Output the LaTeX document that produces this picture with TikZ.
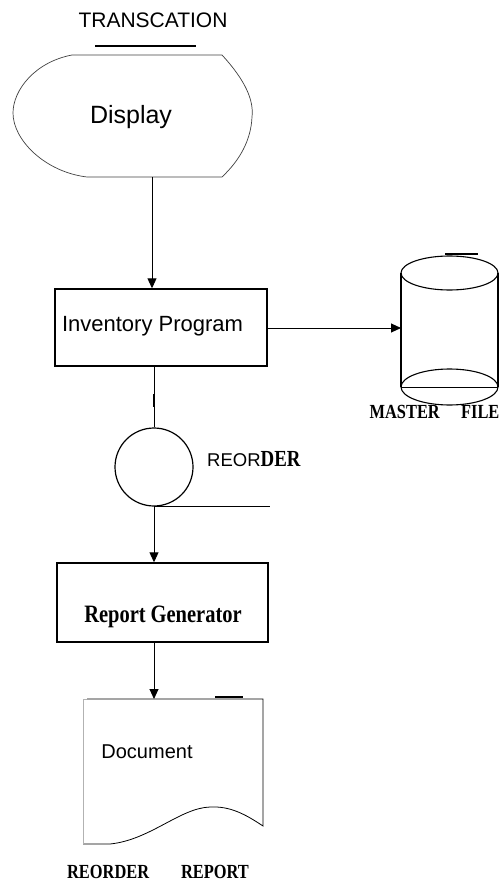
\documentclass[tikz,border=0pt]{standalone}
\usepackage{fontspec}
\setmainfont{Liberation Sans}
\newfontfamily\heavyserif{Liberation Serif}
\usepackage{graphicx}
\usetikzlibrary{arrows.meta}
\tikzset{
  arr/.style={line width=0.9pt,-{Triangle[length=10pt,width=9pt]}},
  procbox/.style={draw,line width=1.4pt,inner sep=0pt},
  txt/.style={anchor=base,inner sep=0pt},
}
\newcommand{\heavy}[2]{{\heavyserif\bfseries\fontsize{#1}{#1}\selectfont\scalebox{0.82}[1]{#2}}}
\begin{document}
\begin{tikzpicture}[x=1pt,y=-1pt]
\useasboundingbox (0,0) rectangle (502,882);

% title
\node[txt,font=\fontsize{21}{23}\selectfont] (trans) at (153,28) {TRANSCATION};
\draw[line width=2pt] (95,46) -- (196,46);

% display symbol
\draw[line width=0.7pt,black!75] (72,55) -- (222,55)
  .. controls (245,80) and (254,100) .. (252,117)
  .. controls (251,140) and (240,160) .. (222,177)
  -- (87,177)
  .. controls (45,172) and (13,140) .. (13,113)
  .. controls (13,90) and (35,62) .. (72,55) -- cycle;
\node[txt,font=\fontsize{25}{27}\selectfont] (disp) at (131,124) {Display};
\coordinate (dispb) at (152,177);

% inventory program
\node[procbox,minimum width=212pt,minimum height=77pt] (inv) at (161,327.5) {};
\node[txt,font=\fontsize{22}{24}\selectfont] (invtext) at (152.5,331) {Inventory Program};
\draw[arr] (dispb) -- (dispb |- inv.north);

% master file cylinder
\coordinate (cylw) at (401,328);
\draw[arr] (inv.east |- cylw) -- (cylw);
\draw[line width=1.1pt] (401,273) -- (401,387);
\draw[line width=1.1pt] (498,273) -- (498,387);
\draw[line width=1.1pt] (449.5,273) ellipse [x radius=48.5pt, y radius=17pt];
\draw[line width=1.1pt] (449.5,387) ellipse [x radius=48.5pt, y radius=18pt];
\draw[line width=1pt] (401,387) -- (498,387);
\draw[line width=2.4pt] (445,254) -- (478,254);
\node[txt] (mflabel) at (434.5,418) {\heavy{20}{MASTER\hspace{26pt}FILE}};

% reorder tape
\node[circle,draw,line width=1.2pt,minimum size=78pt,inner sep=0pt] (reo) at (154,467) {};
\draw[line width=1pt] (reo.north |- inv.south) -- (reo.north);
\draw[line width=2.6pt] (reo.north) ++(0,-33) -- ++(0,13);
\node[anchor=base west,inner sep=0pt] (reolab) at (207,466) {{\fontsize{18.5}{20}\selectfont REOR}\heavy{23}{DER}};
\draw[line width=1pt] (reo.south) -- ++(116,0);

% report generator
\node[procbox,minimum width=211pt,minimum height=79pt] (rg) at (162.5,602.5) {};
\node[txt] (rgtext) at (163,622) {\heavy{25}{Report\hspace{6pt}Generator}};
\draw[arr] (reo.south) -- (reo.south |- rg.north);

% document
\coordinate (doct) at (154,699);
\draw[arr] (doct |- rg.south) -- (doct);
\draw[line width=0.8pt] (87,699) -- (263,699) -- (263,826)
  .. controls (245,814) and (230,806) .. (210,807)
  .. controls (180,808) and (150,840) .. (110,844)
  -- (83,844);
\draw[line width=0.5pt,black!30] (83,844) -- (83,699) -- (87,699);
\draw[line width=2.6pt] (215,697) -- (243,697);
\node[txt,font=\fontsize{20}{22}\selectfont] (doc) at (147,758) {Document};
\node[txt] (doclabel) at (158,878) {\heavy{20}{REORDER\hspace{39pt}REPORT}};
\end{tikzpicture}
\end{document}
